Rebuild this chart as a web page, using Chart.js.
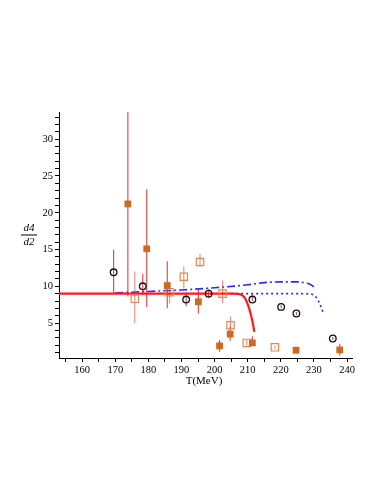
<!DOCTYPE html>
<html>
<head>
<meta charset="utf-8">
<script src="https://cdn.jsdelivr.net/npm/chart.js@4.4.1/dist/chart.umd.min.js"></script>
<style>
  html, body { margin: 0; padding: 0; background: #fff; }
  #wrap { width: 382px; height: 494px; }
</style>
</head>
<body>
<div id="wrap"><canvas id="chart"></canvas></div>
<script>
// open circles
const circT = [169.5, 178.3, 191.4, 198.2, 211.4, 220.1, 224.7, 235.7];
const circV = [11.9, 10.0, 8.2, 9.0, 8.2, 7.2, 6.3, 2.9];
const circLo = [9.0, 8.8, 7.3, 8.4, 8.0, 7.0, 6.1, 2.7];
const circHi = [15.0, 11.7, 9.2, 9.6, 9.0, 7.5, 6.5, 3.1];

// filled squares
const fillT = [173.8, 179.5, 185.7, 195.1, 201.5, 204.7, 211.4, 224.6, 237.8];
const fillV = [21.2, 15.1, 10.1, 7.9, 1.9, 3.5, 2.3, 1.3, 1.35];
const fillLo = [8.6, 7.2, 7.0, 6.3, 1.1, 2.6, 1.9, 0.9, 0.6];
const fillHi = [33.7, 23.2, 13.4, 9.6, 2.7, 4.5, 3.2, 1.8, 2.2];

// open squares
const openT = [175.9, 186.4, 190.7, 195.6, 202.4, 204.8, 209.7, 218.2];
const openV = [8.3, 9.2, 11.3, 13.3, 9.0, 4.7, 2.3, 1.7];
const openLo = [5.0, 7.7, 9.7, 12.7, 7.7, 4.1, 2.0, 1.5];
const openHi = [12.0, 9.6, 12.7, 14.4, 10.8, 5.9, 2.7, 1.9];

// model curves
const redT = [153, 170, 190, 200, 205, 207, 208, 208.8, 209.5, 210.2, 210.8, 211.3, 211.7, 212];
const redV = [9.0, 9.0, 9.0, 9.0, 9.0, 8.97, 8.85, 8.6, 8.1, 7.3, 6.4, 5.5, 4.6, 3.8];
const dashDotT = [170, 175, 180, 190, 200, 210, 215, 220, 225, 228, 229.5, 230.5];
const dashDotV = [9.1, 9.2, 9.3, 9.5, 9.8, 10.2, 10.5, 10.6, 10.6, 10.4, 10.1, 9.7];
const dotT = [205, 215, 225, 229, 230.5, 231.5, 232.3, 233];
const dotV = [9.0, 9.0, 9.0, 8.95, 8.6, 7.9, 7.0, 6.2];

const xTicks = [155, 160, 165, 170, 175, 180, 185, 190, 195, 200, 205, 210, 215, 220, 225, 230, 235, 240];
const yTickLabels = [5, 10, 15, 20, 25, 30];

const serif = "'Liberation Serif', 'Times New Roman', serif";

const pts = (xs, ys) => xs.map((x, i) => ({ x: x, y: ys[i] }));

// vertical bars, split by null gaps
const bars = (xs, lo, hi) => {
  const out = [];
  xs.forEach((x, i) => {
    out.push({ x: x, y: lo[i] }, { x: x, y: hi[i] }, { x: x, y: null });
  });
  return out;
};

const errStyle = {
  showLine: true,
  spanGaps: false,
  borderColor: 'rgba(220,30,30,0.85)',
  borderWidth: 1.1,
  pointRadius: 0,
  order: 5
};

const axisTitles = {
  id: 'axisTitles',
  afterDraw(chart) {
    const ctx = chart.ctx;
    ctx.save();
    ctx.fillStyle = '#000';
    ctx.textAlign = 'center';
    ctx.textBaseline = 'middle';
    ctx.font = '11px ' + serif;
    ctx.fillText('T(MeV)', 204, 381);
    ctx.font = 'italic 11px ' + serif;
    ctx.fillText('d4', 29, 228);
    ctx.fillText('d2', 29, 242);
    ctx.beginPath();
    ctx.moveTo(21, 235);
    ctx.lineTo(37, 235);
    ctx.lineWidth = 1;
    ctx.strokeStyle = '#000';
    ctx.stroke();
    ctx.restore();
  }
};

new Chart(document.getElementById('chart'), {
  type: 'scatter',
  data: {
    datasets: [
      {
        data: pts(circT, circV),
        pointStyle: 'circle',
        pointRadius: 3.3,
        pointBorderWidth: 1.3,
        pointBorderColor: '#111',
        pointBackgroundColor: 'rgba(255,255,255,0)',
        order: 1
      },
      {
        data: pts(fillT, fillV),
        pointStyle: 'rect',
        pointRadius: 4.8,
        pointBorderWidth: 0,
        pointBackgroundColor: '#cc6a22',
        pointBorderColor: '#cc6a22',
        order: 2
      },
      {
        data: pts(openT, openV),
        pointStyle: 'rect',
        pointRadius: 5.2,
        pointBorderWidth: 1.2,
        pointBorderColor: '#e0894a',
        pointBackgroundColor: 'rgba(255,255,255,0)',
        order: 3
      },
      Object.assign({ data: bars(circT, circLo, circHi) }, errStyle),
      Object.assign({ data: bars(fillT, fillLo, fillHi) }, errStyle),
      Object.assign({ data: bars(openT, openLo, openHi) }, errStyle, { borderColor: 'rgba(230,70,70,0.65)' }),
      {
        data: pts(redT, redV),
        showLine: true,
        borderColor: '#ff1a1a',
        borderWidth: 2.2,
        pointRadius: 0,
        cubicInterpolationMode: 'monotone',
        order: 4
      },
      {
        data: pts(dashDotT, dashDotV),
        showLine: true,
        borderColor: '#2a2aff',
        borderWidth: 1.6,
        borderDash: [8, 3, 2, 3],
        pointRadius: 0,
        cubicInterpolationMode: 'monotone',
        order: 6
      },
      {
        data: pts(dotT, dotV),
        showLine: true,
        borderColor: '#2a2aff',
        borderWidth: 1.6,
        borderDash: [2, 3],
        pointRadius: 0,
        cubicInterpolationMode: 'monotone',
        order: 6
      }
    ]
  },
  options: {
    responsive: true,
    maintainAspectRatio: false,
    animation: false,
    layout: { padding: { top: 112, right: 30, bottom: 0, left: 0 } },
    plugins: {
      legend: { display: false },
      tooltip: { enabled: false }
    },
    scales: {
      x: {
        type: 'linear',
        min: 153,
        max: 241.5,
        afterFit: (scale) => { scale.height = 136; },
        afterBuildTicks: (scale) => { scale.ticks = xTicks.map(v => ({ value: v })); },
        border: { display: true, color: '#000', width: 1 },
        grid: { drawOnChartArea: false, drawTicks: true, tickLength: 4, color: '#000' },
        ticks: {
          autoSkip: false,
          maxRotation: 0,
          padding: 2,
          color: '#000',
          font: { family: serif, size: 10.5 },
          callback: (v) => (v % 10 === 0 ? v : '')
        }
      },
      y: {
        type: 'linear',
        min: 0.25,
        max: 33.7,
        afterFit: (scale) => { scale.width = 59; },
        afterBuildTicks: (scale) => {
          const t = [];
          for (let v = 1; v <= 33; v++) t.push({ value: v });
          scale.ticks = t;
        },
        border: { display: true, color: '#000', width: 1 },
        grid: { drawOnChartArea: false, drawTicks: true, tickLength: 4, color: '#000' },
        ticks: {
          autoSkip: false,
          padding: 2,
          color: '#000',
          font: { family: serif, size: 10.5 },
          callback: (v) => (yTickLabels.includes(v) ? v : '')
        }
      }
    }
  },
  plugins: [axisTitles]
});
</script>
</body>
</html>
